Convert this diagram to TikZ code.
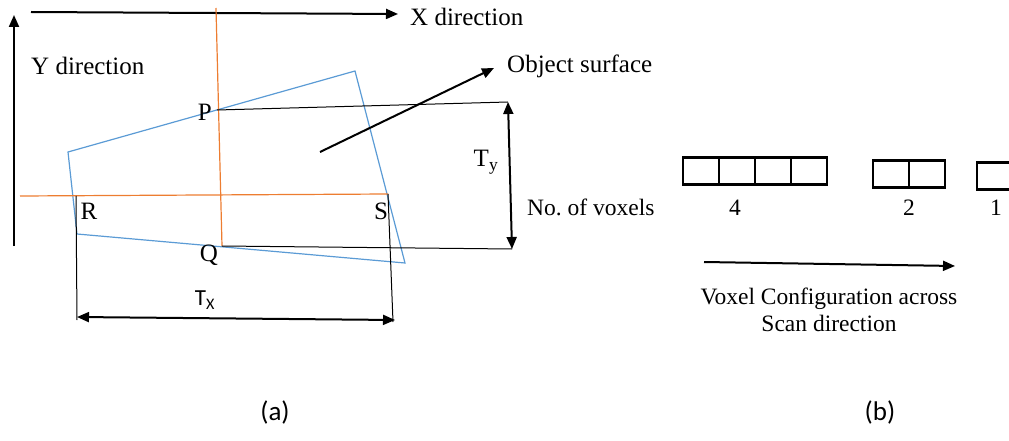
\documentclass[tikz,border=0pt]{standalone}
\usepackage{fontspec}
\setmainfont{Liberation Serif}
\newfontfamily\calibri{Carlito}
\usetikzlibrary{arrows.meta,positioning}
\definecolor{oorange}{HTML}{ED7D31}
\definecolor{oblue}{HTML}{5B9BD5}
\tikzset{
  bigarrow/.style={line width=2pt,-{Triangle[length=12pt,width=10pt]}},
  dblarrow/.style={line width=2pt,{Triangle[length=12pt,width=10pt]}-{Triangle[length=12pt,width=10pt]}},
  thinline/.style={line width=1pt},
  oline/.style={line width=1.2pt,oorange},
  bline/.style={line width=1.2pt,oblue},
  lbl/.style={inner sep=0pt,font=\fontsize{25}{29}\selectfont},
  rlbl/.style={inner sep=0pt,font=\fontsize{23.5}{27}\selectfont},
  slbl/.style={inner sep=0pt,font=\calibri\fontsize{23}{27}\selectfont},
  captionlbl/.style={inner sep=0pt,font=\calibri\fontsize{27}{31}\selectfont},
  voxel/.style={draw,line width=2.4pt,minimum width=36pt,minimum height=27pt,inner sep=0pt,outer sep=0pt}
}
\begin{document}
\begin{tikzpicture}[x=1pt,y=-1pt]
\useasboundingbox (0,0) rectangle (1009,441);
% coordinates
\coordinate (xs) at (31,12);
\coordinate (xe) at (398,14);
\coordinate (ys) at (14,246);
\coordinate (ye) at (14,15);
\coordinate (otop) at (216,8);
\coordinate (P) at (217,110);
\coordinate (Q) at (222,246);
\coordinate (ol) at (20,196);
\coordinate (R) at (76,196);
\coordinate (S) at (388,194);
\coordinate (c1) at (68,152);
\coordinate (c2) at (355,71);
\coordinate (c3) at (405,263);
\coordinate (c4) at (77,234);
\coordinate (tyt) at (508,102);
\coordinate (tyb) at (512,249);
\coordinate (rb) at (77,320);
\coordinate (sb) at (393,322);
\coordinate (os) at (320,152);
\coordinate (oe) at (494,68);
\coordinate (scs) at (704,262);
\coordinate (sce) at (955,266);

% axes
\draw[bigarrow] (xs) -- (xe);
\node[lbl,anchor=west] (xlab) at (410,17) {X direction};
\draw[bigarrow] (ys) -- (ye);
\node[lbl,anchor=west] (ylab) at (31,66) {Y direction};

% surface polygon
\draw[bline] (c1) -- (c2) -- (c3) -- (c4) -- cycle;
% orange lines
\draw[oline] (otop) -- (Q);
\draw[oline] (ol) -- (S);

% Ty lines
\draw[thinline] (P) -- (tyt);
\draw[thinline] (Q) -- (tyb);
\draw[dblarrow] (tyt) -- (tyb);
\node[lbl] (tylab) at (486,162) {T\textsubscript{y}};

% Tx lines
\draw[thinline] (R) -- (rb);
\draw[thinline] (S) -- (sb);
\coordinate (txl) at (77,317);
\coordinate (txr) at (395,320);
\draw[dblarrow] (txl) -- (txr);
\node[slbl] (txlab) at (205,300) {T\textsubscript{X}};

% labels
\node[lbl,anchor=east] (plab) at (212,112) {P};
\node[lbl] (qlab) at (209,255) {Q};
\node[lbl] (rlab) at (89,211) {R};
\node[lbl] (slab) at (381,211) {S};

% object surface
\draw[bigarrow] (os) -- (oe);
\node[lbl,anchor=west] (oslab) at (507,66) {Object surface};

% voxels
\node[rlbl,anchor=west] (nov) at (527,207) {No.\ of voxels};
\node[voxel] (v1) at (701,171) {};
\node[voxel,right=0pt of v1] (v2) {};
\node[voxel,right=0pt of v2] (v3) {};
\node[voxel,right=0pt of v3] (v4) {};
\node[rlbl] (n4) at (735,208) {4};
\node[voxel] (w1) at (891,174) {};
\node[voxel,right=0pt of w1] (w2) {};
\node[rlbl] (n2) at (909,208) {2};
\node[voxel] (u1) at (995,176) {};
\node[rlbl] (n1) at (996,208) {1};

% scan direction
\draw[bigarrow] (scs) -- (sce);
\node[rlbl,align=center] (scan) at (829,310) {Voxel Configuration across\\Scan direction};

% captions
\node[captionlbl] (ca) at (275,412) {(a)};
\node[captionlbl] (cb) at (880,412) {(b)};
\end{tikzpicture}
\end{document}
